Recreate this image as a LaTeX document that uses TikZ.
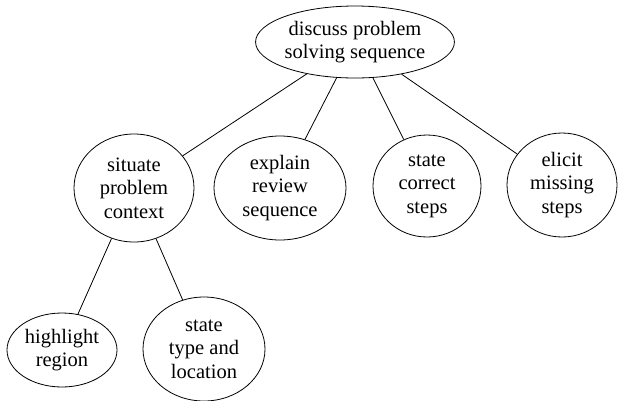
\documentclass[tikz,border=0pt]{standalone}
\usepackage{fontspec}
\setmainfont{Liberation Serif}
\usetikzlibrary{shapes.geometric}
\begin{document}
\begin{tikzpicture}[x=1pt,y=-1pt,
  bubble/.style={ellipse,draw,line width=0.8pt,inner sep=0pt,align=center,
    font=\fontsize{20.5}{23.5}\selectfont},
  link/.style={line width=0.8pt}]
\useasboundingbox (0,0) rectangle (618,400);
\fill[white] (0,0) rectangle (618,400);
\node[bubble,minimum width=180,minimum height=72] (top) at (355,42) {discuss problem\\solving sequence};
\node[bubble,minimum width=120,minimum height=108] (sit) at (134,188) {situate\\problem\\context};
\node[bubble,minimum width=132,minimum height=104] (exp) at (280,188) {explain\\review\\sequence};
\node[bubble,minimum width=108,minimum height=102] (cor) at (427,186) {state\\correct\\steps};
\node[bubble,minimum width=110,minimum height=104] (eli) at (562,185) {elicit\\missing\\steps};
\node[bubble,minimum width=110,minimum height=74] (hl) at (62,350) {highlight\\region};
\node[bubble,minimum width=122,minimum height=104] (typ) at (204,349) {state\\type and\\location};
\draw[link] (top) -- (sit);
\draw[link] (top) -- (exp);
\draw[link] (top) -- (cor);
\draw[link] (top) -- (eli);
\draw[link] (sit) -- (hl);
\draw[link] (sit) -- (typ);
\end{tikzpicture}
\end{document}
